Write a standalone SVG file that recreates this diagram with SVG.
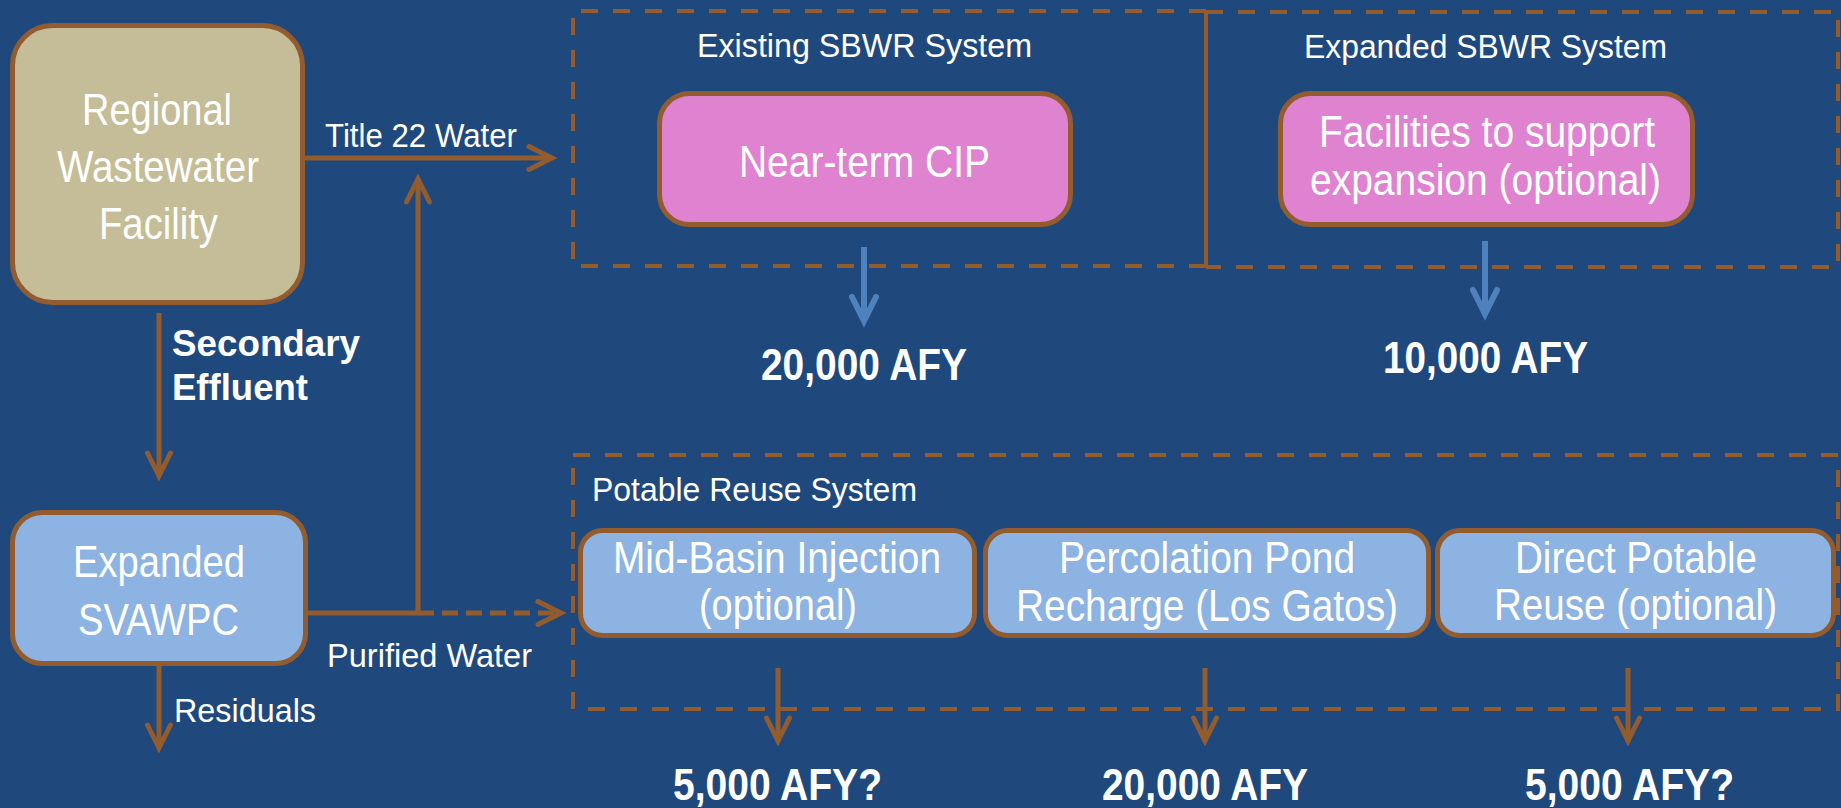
<svg xmlns="http://www.w3.org/2000/svg" width="1841" height="808" viewBox="0 0 1841 808">
<style>
.bg{fill:#1F497D}
.node{stroke:#935C2E;stroke-width:5}
.tan{fill:#C4BD97}
.blue{fill:#8DB3E2}
.pink{fill:#DF82D0}
.grp{fill:none;stroke:#935C2E;stroke-width:4;stroke-dasharray:17 15}
.t{font-family:"Liberation Sans Narrow","Liberation Sans",Arial,sans-serif;fill:#FFFFFF}
.big{font-size:45px}
.lab{font-size:34px}
.afy{font-size:45px;font-weight:bold}
.bold{font-family:"Liberation Sans",Arial,sans-serif;font-weight:bold;font-size:36px;fill:#FFFFFF}
.bl{fill:none;stroke:#935C2E;stroke-width:5}
.bld{fill:none;stroke:#935C2E;stroke-width:5;stroke-dasharray:16 8}
.ul{fill:none;stroke:#4F81BD;stroke-width:6}
</style>
<defs>
<marker id="ab" markerUnits="userSpaceOnUse" markerWidth="40" markerHeight="40" viewBox="-32 -20 40 40" refX="0" refY="0" orient="auto" overflow="visible">
<path d="M-23,-11.5 L0,0 L-23,11.5" fill="none" stroke="#935C2E" stroke-width="5" stroke-linecap="round" stroke-linejoin="miter"/>
</marker>
<marker id="au" markerUnits="userSpaceOnUse" markerWidth="40" markerHeight="40" viewBox="-32 -20 40 40" refX="0" refY="0" orient="auto" overflow="visible">
<path d="M-24,-12 L0,0 L-24,12" fill="none" stroke="#4F81BD" stroke-width="6" stroke-linecap="round" stroke-linejoin="miter"/>
</marker>
</defs>
<rect class="bg" x="0" y="0" width="1841" height="808"/>

<g id="group-existing">
<path class="grp" d="M1206,11 L573,11 L573,266 L1206,266"/>
<text class="t lab" x="697" y="57" textLength="335" lengthAdjust="spacingAndGlyphs">Existing SBWR System</text>
</g>
<g id="group-expanded">
<path class="grp" d="M1206,12 L1838,12 L1838,267 L1206,267"/>
<line x1="1206" y1="11" x2="1206" y2="267" stroke="#935C2E" stroke-width="4"/>
<text class="t lab" x="1304" y="58" textLength="363" lengthAdjust="spacingAndGlyphs">Expanded SBWR System</text>
</g>
<g id="group-potable">
<rect class="grp" x="573" y="455" width="1265" height="254"/>
<text class="t lab" x="592" y="501" textLength="325" lengthAdjust="spacingAndGlyphs">Potable Reuse System</text>
</g>

<g id="connectors">
<line class="bl" x1="305" y1="158" x2="552" y2="158" marker-end="url(#ab)"/>
<polyline class="bl" points="305,613 418,613 418,179" marker-end="url(#ab)"/>
<line class="bld" x1="418" y1="613" x2="561" y2="613" marker-end="url(#ab)"/>
<line class="bl" x1="159" y1="313" x2="159" y2="476" marker-end="url(#ab)"/>
<line class="bl" x1="159" y1="666" x2="159" y2="748" marker-end="url(#ab)"/>
<line class="ul" x1="864" y1="247" x2="864" y2="321" marker-end="url(#au)"/>
<line class="ul" x1="1485" y1="241" x2="1485" y2="314" marker-end="url(#au)"/>
<line class="bl" x1="778" y1="668" x2="778" y2="741" marker-end="url(#ab)"/>
<line class="bl" x1="1205" y1="668" x2="1205" y2="741" marker-end="url(#ab)"/>
<line class="bl" x1="1628" y1="668" x2="1628" y2="741" marker-end="url(#ab)"/>
</g>

<g id="node-regional">
<rect class="node tan" x="12.5" y="25.5" width="290" height="277" rx="40" ry="40"/>
<text class="t big" x="82" y="125" textLength="150" lengthAdjust="spacingAndGlyphs">Regional</text>
<text class="t big" x="57" y="182" textLength="202" lengthAdjust="spacingAndGlyphs">Wastewater</text>
<text class="t big" x="99" y="239" textLength="119" lengthAdjust="spacingAndGlyphs">Facility</text>
</g>
<g id="node-svawpc">
<rect class="node blue" x="12.5" y="512.5" width="293" height="151" rx="30" ry="30"/>
<text class="t big" x="73" y="577" textLength="172" lengthAdjust="spacingAndGlyphs">Expanded</text>
<text class="t big" x="78" y="635" textLength="161" lengthAdjust="spacingAndGlyphs">SVAWPC</text>
</g>
<g id="node-cip">
<rect class="node pink" x="659.5" y="93.5" width="411" height="131" rx="30" ry="30"/>
<text class="t big" x="739" y="177" textLength="251" lengthAdjust="spacingAndGlyphs">Near-term CIP</text>
</g>
<g id="node-facilities">
<rect class="node pink" x="1280.5" y="93.5" width="412" height="131" rx="30" ry="30"/>
<text class="t big" x="1319" y="147" textLength="336" lengthAdjust="spacingAndGlyphs">Facilities to support</text>
<text class="t big" x="1310" y="195" textLength="351" lengthAdjust="spacingAndGlyphs">expansion (optional)</text>
</g>
<g id="node-midbasin">
<rect class="node blue" x="580.5" y="530.5" width="394" height="105" rx="22" ry="22"/>
<text class="t big" x="613" y="573" textLength="328" lengthAdjust="spacingAndGlyphs">Mid-Basin Injection</text>
<text class="t big" x="699" y="620" textLength="158" lengthAdjust="spacingAndGlyphs">(optional)</text>
</g>
<g id="node-percolation">
<rect class="node blue" x="985.5" y="530.5" width="443" height="105" rx="22" ry="22"/>
<text class="t big" x="1059" y="573" textLength="296" lengthAdjust="spacingAndGlyphs">Percolation Pond</text>
<text class="t big" x="1016" y="621" textLength="382" lengthAdjust="spacingAndGlyphs">Recharge (Los Gatos)</text>
</g>
<g id="node-dpr">
<rect class="node blue" x="1437.5" y="530.5" width="396" height="105" rx="22" ry="22"/>
<text class="t big" x="1515" y="573" textLength="242" lengthAdjust="spacingAndGlyphs">Direct Potable</text>
<text class="t big" x="1494" y="620" textLength="283" lengthAdjust="spacingAndGlyphs">Reuse (optional)</text>
</g>

<g id="labels">
<text class="t lab" x="325" y="147" textLength="192" lengthAdjust="spacingAndGlyphs">Title 22 Water</text>
<text class="bold" x="172" y="356" textLength="188" lengthAdjust="spacingAndGlyphs">Secondary</text>
<text class="bold" x="172" y="400" textLength="136" lengthAdjust="spacingAndGlyphs">Effluent</text>
<text class="t lab" x="327" y="667" textLength="205" lengthAdjust="spacingAndGlyphs">Purified Water</text>
<text class="t lab" x="174" y="722" textLength="142" lengthAdjust="spacingAndGlyphs">Residuals</text>
<text class="t afy" x="761" y="380" textLength="206" lengthAdjust="spacingAndGlyphs">20,000 AFY</text>
<text class="t afy" x="1383" y="373" textLength="205" lengthAdjust="spacingAndGlyphs">10,000 AFY</text>
<text class="t afy" x="673" y="800" textLength="209" lengthAdjust="spacingAndGlyphs">5,000 AFY?</text>
<text class="t afy" x="1102" y="800" textLength="206" lengthAdjust="spacingAndGlyphs">20,000 AFY</text>
<text class="t afy" x="1525" y="800" textLength="209" lengthAdjust="spacingAndGlyphs">5,000 AFY?</text>
</g>
</svg>
